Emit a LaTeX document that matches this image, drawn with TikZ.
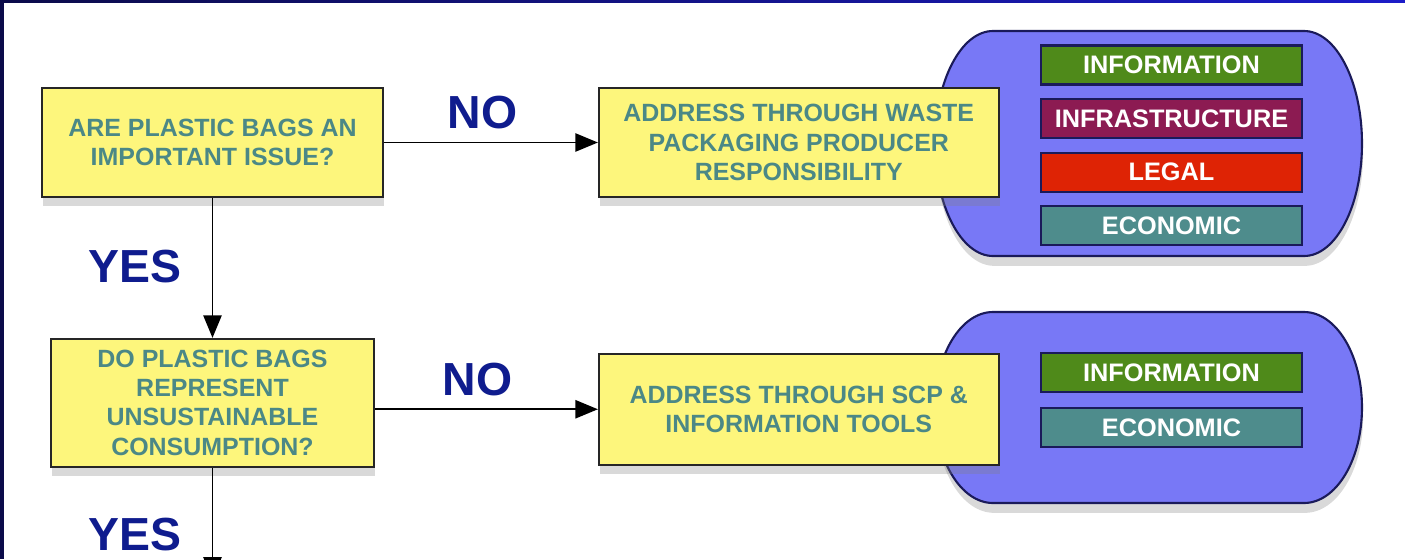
\documentclass[tikz,border=0pt]{standalone}
\usepackage{fontspec}
\setmainfont{Liberation Sans}
\usetikzlibrary{arrows.meta, positioning, shadows}

\definecolor{boxyellow}{HTML}{FDF67C}
\definecolor{boxtext}{HTML}{4B8886}
\definecolor{labelblue}{HTML}{0F1C8E}
\definecolor{blobblue}{HTML}{7878F6}
\definecolor{edgeblue}{HTML}{1A1A5A}
\definecolor{infogreen}{HTML}{4F8A1A}
\definecolor{infrapurple}{HTML}{8C1B52}
\definecolor{legalred}{HTML}{DE2305}
\definecolor{econteal}{HTML}{4E8C8C}
\definecolor{framenavy}{HTML}{0B0B4A}
\definecolor{framebright}{HTML}{1C1CC8}

\begin{document}
\begin{tikzpicture}[
  node distance=1cm and .5cm,
  box/.style={draw=black!85, fill=boxyellow, line width=0.5pt, text=boxtext, align=center, inner sep=2pt,
    font=\bfseries\fontsize{7.1}{8.3}\selectfont,
    drop shadow={opacity=0.3, shadow xshift=0.3pt, shadow yshift=-2.5pt}},
  tool/.style={draw=edgeblue, line width=0.6pt, text=white, minimum width=2.61cm, minimum height=0.39cm,
    inner sep=0pt, font=\bfseries\fontsize{7.2}{8.3}\selectfont},
  blob/.style={draw=edgeblue, fill=blobblue, line width=0.6pt,
    drop shadow={opacity=0.3, shadow xshift=0.3pt, shadow yshift=-2.8pt}},
  answer/.style={text=labelblue, inner sep=0pt, font=\bfseries\fontsize{13.2}{15}\selectfont},
  arrow/.style={-{Triangle[length=6.4pt, width=5.2pt]}, line width=0.45pt}
]

\useasboundingbox (0,0) rectangle (14.05,5.59);
\clip (0,0) rectangle (14.05,5.59);

% Frame
\fill[framenavy] (0,0) rectangle (0.04,5.59);
\shade[left color=framenavy, right color=framebright] (0,5.565) rectangle (14.05,5.59);

% Tool groups (behind the answer boxes)
\draw[blob] (9.93,5.28) -- (13.04,5.28) arc[start angle=90, end angle=-90, x radius=0.58, y radius=1.125]
  -- (9.93,3.03) arc[start angle=270, end angle=90, x radius=0.58, y radius=1.125] -- cycle;
\draw[blob] (9.93,2.47) -- (13.04,2.47) arc[start angle=90, end angle=-90, x radius=0.58, y radius=0.955]
  -- (9.93,0.56) arc[start angle=270, end angle=90, x radius=0.58, y radius=0.955] -- cycle;

% Row 1: important issue?
\node[box, minimum width=3.41cm, minimum height=1.09cm] (Issue) at (2.125,4.165) {ARE PLASTIC BAGS AN\\IMPORTANT ISSUE?};
\node[box, minimum width=4cm, minimum height=1.09cm, right=2.14cm of Issue] (Waste) {ADDRESS THROUGH WASTE\\PACKAGING PRODUCER\\RESPONSIBILITY};

\node[tool, fill=infogreen] (WasteInfo) at (11.715,4.94) {INFORMATION};
\node[tool, fill=infrapurple, below=0.125cm of WasteInfo] (WasteInfra) {INFRASTRUCTURE};
\node[tool, fill=legalred, below=0.125cm of WasteInfra] (WasteLegal) {LEGAL};
\node[tool, fill=econteal, below=0.125cm of WasteLegal] (WasteEcon) {ECONOMIC};

\draw[arrow] (Issue) -- node[answer, above=0.13cm, pos=0.46] {NO} (Waste);

% Row 2: unsustainable consumption?
\node[box, minimum width=3.23cm, minimum height=1.28cm, below=1.40cm of Issue] (Consume) {DO PLASTIC BAGS\\REPRESENT\\UNSUSTAINABLE\\CONSUMPTION?};
\node[box, minimum width=4cm, minimum height=1.11cm, below=1.55cm of Waste] (SCP) {ADDRESS THROUGH SCP \&\\INFORMATION TOOLS};

\node[tool, fill=infogreen] (SCPInfo) at (11.715,1.865) {INFORMATION};
\node[tool, fill=econteal, below=0.14cm of SCPInfo] (SCPEcon) {ECONOMIC};

\draw[arrow] (Issue) -- node[answer, left=0.3cm, pos=0.49] {YES} (Consume);
\draw[arrow] (Consume.east |- SCP) -- node[answer, above=0.13cm, pos=0.46] {NO} (SCP);

% Row 3: runs off the page
\coordinate[below=1.12cm of Consume.south] (Next);
\draw[arrow] (Consume) -- node[answer, left=0.3cm, pos=0.6] {YES} (Next);

\end{tikzpicture}
\end{document}
